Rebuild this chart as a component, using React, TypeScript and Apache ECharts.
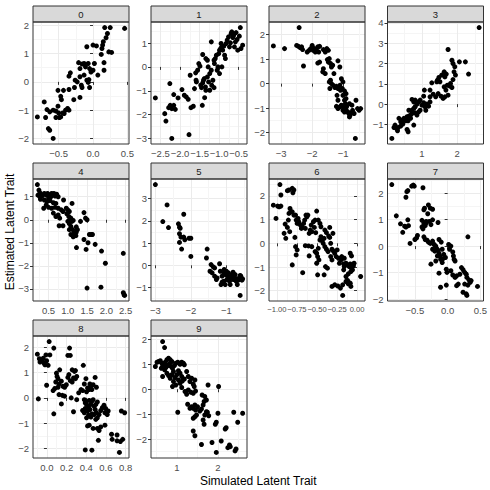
import React, { useEffect, useRef } from "react";
import * as echarts from "echarts";

const facetLabels = ["0", "1", "2", "3", "4", "5", "6", "7", "8", "9"];
const xTitle = "Simulated Latent Trait";
const yTitle = "Estimated Latent Trait";

const panel0: number[][] = [[0.46,1.89],[0.17,1.92],[0.25,1.92],[0.21,1.71],[0.19,1.56],[0.15,1.42],[0.14,1.30],[0.13,1.18],[0,1.30],[0.05,1.27],[-0.09,1.24],[0.23,1.06],[0.27,1.04],[0.12,0.97],[0.16,0.68],[-0.21,0.68],[-0.16,0.63],[-0.13,0.65],[-0.07,0.65],[0.02,0.65],[-0.11,0.53],[-0.05,0.47],[0,0.41],[-0.03,0.35],[-0.19,0.47],[0.16,0.41],[0.07,0.24],[-0.33,0.32],[-0.35,0.2],[-0.19,0.18],[-0.13,0.24],[-0.26,0.06],[-0.23,0],[-0.09,0.06],[-0.06,0.08],[-0.07,-0.02],[-0.17,-0.12],[-0.16,-0.2],[-0.05,-0.2],[-0.27,-0.2],[-0.51,-0.3],[-0.43,-0.3],[-0.35,-0.27],[-0.47,-0.51],[-0.46,-0.63],[-0.19,-0.55],[-0.28,-0.63],[-0.71,-0.71],[-0.51,-0.86],[-0.67,-0.98],[-0.63,-1.06],[-0.58,-1.0],[-0.54,-1.03],[-0.5,-1.1],[-0.44,-1.1],[-0.4,-1.0],[-0.37,-0.94],[-0.35,-1.0],[-0.42,-1.12],[-0.47,-1.24],[-0.54,-1.26],[-0.49,-1.26],[-0.69,-1.26],[-0.81,-1.24],[-0.65,-1.65],[-0.63,-1.71],[-0.58,-2.0]];

const panel1: number[][] = [[-2.63,-1.30],[-2.26,-0.70],[-2.39,-1.96],[-2.36,-2.27],[-2.29,-1.71],[-2.25,-1.61],[-2.21,-1.75],[-2.12,-1.78],[-2.16,-1.61],[-2.16,-1.16],[-2.05,-1.30],[-1.95,-0.95],[-1.89,-1.19],[-1.84,-1.26],[-1.79,-1.36],[-2.21,-3.0],[-1.77,-2.84],[-1.74,-0.35],[-1.72,-1.71],[-1.66,-1.65],[-1.63,-0.91],[-1.59,-0.56],[-1.58,-0.63],[-1.60,-0.25],[-1.55,-0.14],[-1.52,0.14],[-1.49,0.03],[-1.47,-0.77],[-1.45,-0.87],[-1.42,-0.67],[-1.40,-0.56],[-1.38,-0.49],[-1.43,-1.61],[-1.37,-1.29],[-1.34,-0.98],[-1.42,0.52],[-1.34,0.35],[-1.30,0.28],[-1.28,0],[-1.30,-0.42],[-1.27,-0.63],[-1.24,-0.28],[-1.20,-0.14],[-1.20,1.05],[-1.19,-0.77],[-1.16,-0.56],[-1.13,0.28],[-1.12,0.14],[-1.10,0.35],[-1.07,0.49],[-1.03,0],[-1.01,0.56],[-0.99,0.70],[-0.96,0.77],[-0.95,0.98],[-0.93,0.84],[-0.91,0.70],[-0.88,0.87],[-0.86,0.49],[-0.84,0.35],[-0.82,0.98],[-0.794,1.12],[-0.76,1.26],[-0.735,0.84],[-0.71,1.01],[-0.693,1.40],[-0.676,1.47],[-0.651,1.23],[-0.626,1.33],[-0.609,0.84],[-0.584,1.05],[-0.567,1.44],[-0.542,1.15],[-0.525,0.70],[-0.483,1.29],[-0.458,1.65],[-0.441,0.77],[-0.399,0.91],[-1.05,-0.14],[-0.99,-0.28],[-0.93,0],[-1.13,-0.87],[-1.24,-0.98],[-1.35,-0.84]];

const panel2: number[][] = [[-2.42,2.29],[-3.25,1.54],[-2.89,1.43],[-2.5,1.56],[-2.44,1.52],[-2.39,1.47],[-2.34,1.50],[-2.31,1.39],[-2.28,0.72],[-2.16,1.29],[-2.10,1.36],[-2.05,1.43],[-2.0,1.56],[-1.97,1.36],[-1.93,1.43],[-1.90,1.29],[-1.86,1.36],[-1.82,1.50],[-1.76,1.52],[-1.79,1.29],[-1.82,0.84],[-1.76,0.88],[-1.64,1.39],[-1.58,1.29],[-1.53,1.43],[-1.48,1.36],[-1.64,0.61],[-1.58,0.41],[-1.66,0.48],[-1.51,0.98],[-1.48,0.88],[-1.45,1.02],[-1.41,0.82],[-1.38,0.68],[-1.34,0.75],[-1.30,0.41],[-1.41,0.14],[-1.45,0.07],[-1.38,0],[-1.43,-0.20],[-1.17,0.93],[-1.11,0.68],[-1.32,-0.07],[-1.27,-0.16],[-1.22,-0.11],[-1.17,-0.20],[-1.11,-0.07],[-1.06,0.20],[-1.01,0.07],[-1.09,-0.27],[-1.03,-0.20],[-0.96,-0.30],[-0.91,-0.41],[-1.17,-0.68],[-1.20,-0.48],[-1.01,-0.48],[-0.96,-0.68],[-0.91,-0.61],[-0.93,-0.82],[-1.22,-0.93],[-1.17,-1.02],[-1.11,-0.95],[-1.06,-0.88],[-1.01,-0.95],[-1.01,-1.09],[-0.96,-1.16],[-0.91,-1.06],[-0.85,-1.16],[-0.82,-1.22],[-0.78,-1.29],[-0.75,-1.20],[-0.70,-1.09],[-0.65,-1.22],[-0.59,-0.68],[-0.54,-1.02],[-0.49,-1.09],[-0.44,-1.02],[-0.80,-1.36],[-0.61,-2.24],[-0.89,-0.93],[-0.80,-0.82],[-0.72,-0.88]];

const panel3: number[][] = [[2.62,3.77],[1.74,2.69],[2.06,2.08],[2.23,2.08],[2.32,1.48],[1.85,2.16],[1.88,2.0],[1.93,1.84],[1.91,1.59],[1.95,1.43],[1.88,1.21],[1.81,1.02],[1.79,0.89],[1.85,0.82],[1.63,1.59],[1.56,1.43],[1.48,1.31],[1.44,1.18],[1.51,1.10],[1.42,1.10],[1.65,1.34],[1.69,1.48],[1.28,1.05],[1.23,0.69],[1.07,0.69],[1.05,0.39],[1.23,0.36],[1.32,0.49],[1.39,0.36],[1.46,0.52],[1.54,0.39],[1.60,0.28],[1.65,0.36],[1.74,0.44],[1.63,0.85],[1.68,0.69],[1.72,0.93],[0.72,0.23],[0.77,0.11],[0.81,0.2],[0.86,0],[0.91,0.11],[0.95,0.2],[1.0,-0.05],[1.05,0.07],[1.09,-0.13],[1.14,0],[1.19,-0.1],[1.11,-0.3],[1.23,0.11],[0.35,-0.70],[0.40,-0.87],[0.44,-0.79],[0.49,-0.70],[0.54,-0.82],[0.58,-0.62],[0.63,-0.59],[0.68,-0.54],[0.72,-0.46],[0.68,-0.70],[0.61,-0.82],[0.81,-0.43],[0.86,-0.54],[0.91,-0.38],[0.95,-0.30],[0.77,-0.21],[0.81,-0.13],[0.72,-0.30],[0.63,-0.30],[0.24,-1.03],[0.28,-1.20],[0.33,-1.15],[0.31,-1.31],[0.40,-1.08],[0.46,-0.98],[0.58,-1.25],[0.61,-1.36],[0.77,-1.03],[0.21,-1.15],[0.15,-1.69]];

const panel4: number[][] = [[0.21,1.53],[0.25,1.29],[0.28,1.17],[0.225,1.07],[0.275,1.0],[0.333,1.03],[0.39,1.14],[0.44,1.07],[0.475,1.14],[0.525,1.07],[0.56,1.0],[0.61,1.07],[0.64,1.14],[0.67,1.03],[0.71,1.11],[0.75,1.0],[0.58,1.14],[0.5,0.93],[0.29,0.89],[0.39,0.86],[0.46,0.79],[0.54,0.83],[0.625,0.74],[0.69,0.71],[0.375,0.5],[0.44,0.64],[0.5,0.54],[0.58,0.5],[0.67,0.54],[0.75,0.5],[0.83,0.43],[0.875,0.36],[0.89,0.86],[0.625,0.29],[0.69,0.14],[0.75,0.21],[0.79,0.07],[0.775,-0.26],[0.875,-0.26],[0.96,0.5],[1.0,0.43],[1.04,0.36],[0.975,0.26],[1.025,0.14],[1.06,0],[1.08,0.07],[1.0,-0.07],[1.04,-0.17],[1.11,-0.07],[1.14,-0.03],[1.08,-0.29],[1.125,-0.43],[1.17,-0.57],[1.21,-0.69],[1.14,-0.74],[1.08,-0.64],[1.04,-0.43],[1.11,0.71],[1.22,-0.31],[1.25,-0.43],[1.22,-0.54],[1.33,-0.07],[1.42,0.31],[1.46,0.07],[1.5,0],[1.225,-1.21],[1.42,-0.86],[1.475,-1.29],[1.525,-1.0],[1.56,-0.64],[1.61,-0.64],[1.64,-0.64],[1.71,-1.07],[1.875,-1.36],[1.975,-1.89],[2.44,-1.46],[1.5,-2.97],[1.86,-2.93],[2.44,-3.17],[2.46,-3.26],[2.475,-3.29]];

const panel5: number[][] = [[-3.0,3.64],[-2.67,2.72],[-2.79,1.97],[-2.63,1.70],[-2.2,2.30],[-2.35,1.87],[-2.32,1.72],[-2.30,1.67],[-2.32,1.42],[-2.28,1.27],[-2.32,1.03],[-2.26,0.73],[-2.2,1.27],[-2.17,1.15],[-2.05,1.22],[-2.0,1.22],[-2.0,0.40],[-1.54,0.73],[-1.56,0.33],[-1.43,0.03],[-1.37,-0.07],[-1.33,-0.12],[-1.40,-0.34],[-1.46,-0.27],[-1.33,-0.49],[-1.28,-0.64],[-1.26,-0.57],[-1.19,0.07],[-1.17,-0.27],[-1.15,-0.87],[-1.12,-0.49],[-1.07,-0.34],[-1.06,-0.19],[-1.03,-0.42],[-1.0,-0.27],[-0.98,-0.64],[-0.96,-0.49],[-0.94,-0.34],[-0.91,-0.72],[-0.89,-0.87],[-0.87,-0.57],[-0.84,-0.42],[-0.81,-0.31],[-0.80,-0.64],[-0.78,-0.49],[-0.75,-0.42],[-0.72,-0.72],[-0.70,-0.61],[-0.69,-0.87],[-0.66,-0.67],[-0.63,-0.57],[-0.61,-0.46],[-0.59,-0.49],[-0.56,-0.67],[-0.54,-0.61],[-1.07,-0.72],[-1.12,-0.76],[-1.03,-0.87],[-0.61,-1.36]];

const panel6: number[][] = [[-0.963,2.48],[-0.951,2.04],[-1.045,1.61],[-0.992,1.57],[-0.972,1.54],[-0.951,1.57],[-1.012,1.05],[-0.87,2.22],[-0.809,2.32],[-0.801,2.13],[-0.789,2.25],[-0.85,2.25],[-0.837,1.47],[-0.829,1.33],[-0.85,1.26],[-0.809,1.33],[-0.789,1.19],[-0.898,0.81],[-0.870,0.67],[-0.911,0.42],[-0.89,0.21],[-0.841,0.49],[-0.858,0.98],[-0.768,1.19],[-0.76,0.98],[-0.748,0.84],[-0.736,1.05],[-0.728,0.91],[-0.707,0.77],[-0.695,0.63],[-0.687,0.70],[-0.667,0.84],[-0.654,0.98],[-0.646,0.63],[-0.626,1.12],[-0.638,1.19],[-0.614,1.19],[-0.598,0.42],[-0.585,0.56],[-0.565,0.49],[-0.573,0.77],[-0.545,0.91],[-0.524,0.98],[-0.533,0.67],[-0.516,0.45],[-0.504,1.36],[-0.484,0.98],[-0.463,0.84],[-0.451,0.70],[-0.809,-0.91],[-0.768,-0.14],[-0.748,-0.28],[-0.76,-0.49],[-0.776,0.25],[-0.679,-1.24],[-0.646,-0.10],[-0.606,-0.11],[-0.565,-0.14],[-0.598,-0.53],[-0.524,-0.35],[-0.504,-0.42],[-0.492,-0.56],[-0.476,-0.70],[-0.504,-0.84],[-0.484,-0.21],[-0.463,0.14],[-0.451,0.28],[-0.435,0.11],[-0.423,0],[-0.411,0.21],[-0.402,-0.14],[-0.382,-0.25],[-0.362,-0.35],[-0.382,0.45],[-0.402,0.56],[-0.354,0.31],[-0.341,0.25],[-0.329,0],[-0.313,-0.25],[-0.301,-0.31],[-0.329,-0.56],[-0.313,-0.70],[-0.280,-0.42],[-0.260,-0.56],[-0.248,-0.28],[-0.232,-0.63],[-0.220,-0.84],[-0.199,-0.70],[-0.191,-0.56],[-0.167,-0.87],[-0.159,-0.98],[-0.370,-1.05],[-0.394,-0.98],[-0.411,-1.33],[-0.492,-1.33],[-0.313,-1.82],[-0.28,-1.75],[-0.24,-1.80],[-0.207,-1.89],[-0.179,-1.75],[-0.159,-0.63],[-0.138,-0.84],[-0.118,-0.91],[-0.098,-0.98],[-0.085,-0.87],[-0.069,-1.05],[-0.057,-1.12],[-0.045,-0.95],[-0.037,-0.84],[-0.077,-1.19],[-0.110,-1.29],[-0.138,-1.40],[-0.167,-1.12],[-0.085,-0.42],[-0.069,-0.53],[-0.138,-1.61],[-0.118,-1.57],[-0.085,-1.68],[-0.077,-1.82],[-0.11,-1.71],[-0.179,-2.2],[0.045,-1.40],[-0.301,0.42],[-0.341,0.67]];

const panel7: number[][] = [[-0.853,2.32],[-0.784,1.14],[-0.72,0.84],[-0.657,0.75],[-0.637,0.72],[-0.608,0.99],[-0.686,0.52],[-0.598,0.77],[-0.574,0.10],[-0.637,1.84],[-0.623,2.05],[-0.549,2.26],[-0.525,2.30],[-0.51,2.26],[-0.608,2.09],[-0.377,2.20],[-0.5,0.25],[-0.461,0.40],[-0.475,0.31],[-0.392,0.97],[-0.363,0.84],[-0.343,0.77],[-0.328,0.87],[-0.377,0.65],[-0.392,0.72],[-0.363,1.37],[-0.353,1.43],[-0.294,1.55],[-0.265,1.43],[-0.230,1.39],[-0.304,1.22],[-0.328,0.93],[-0.279,0.93],[-0.230,0.99],[-0.255,0.81],[-0.147,0.89],[-0.363,0.35],[-0.343,0.25],[-0.314,0.22],[-0.294,0.15],[-0.265,0.10],[-0.230,0.19],[-0.206,0.06],[-0.181,0],[-0.167,-0.10],[-0.147,-0.15],[-0.230,-0.12],[-0.196,-0.19],[-0.132,-0.27],[-0.118,-0.37],[-0.157,-0.37],[-0.181,-0.56],[-0.255,-0.68],[-0.132,0.25],[-0.098,0.15],[-0.083,-0.12],[-0.059,-0.31],[-0.034,-0.43],[-0.108,-0.50],[-0.083,-0.62],[-0.069,-0.47],[0.015,0.06],[0.049,0],[0.029,-0.12],[0.078,-0.22],[0.088,-0.37],[0.098,-0.50],[0.113,-0.56],[-0.132,-1.02],[-0.02,-0.87],[-0.01,-0.99],[0.049,-0.93],[0.078,-1.09],[0.113,-1.18],[0.137,-1.12],[0.186,-1.06],[-0.108,-1.55],[-0.02,-1.47],[0.137,-1.49],[0.162,-1.43],[0.211,-0.81],[0.235,-0.89],[0.26,-0.99],[0.284,-1.06],[0.294,-1.18],[0.324,-1.27],[0.343,-1.37],[0.358,-1.30],[0.309,-1.47],[0.26,-1.43],[0.235,-1.74],[0.284,-1.80],[0.294,-1.86],[0.456,-1.52],[0.309,0.35]];

const panel8: number[][] = [[0.023,2.23],[-0.097,1.73],[-0.077,1.55],[-0.037,1.57],[-0.053,1.47],[-0.07,1.42],[-0.03,1.38],[-0.003,1.47],[-0.02,1.31],[0.013,1.29],[-0.01,1.70],[0.03,1.70],[0.07,1.97],[-0.087,-0.04],[-0.003,0.50],[0.07,-0.63],[0.063,0.29],[0.08,0.37],[0.097,0.98],[0.103,0.85],[0.113,0.76],[0.09,0.63],[0.123,0.55],[0.113,0.42],[0.13,1.11],[0.147,0.66],[0.163,0.46],[0.123,0.13],[0.157,0.10],[0.147,-0.24],[0.18,0.07],[0.18,0.42],[0.197,0.52],[0.213,0.81],[0.223,0.92],[0.237,0.68],[0.257,0.63],[0.27,0.79],[0.29,0.76],[0.303,0.85],[0.28,1.05],[0.257,1.11],[0.29,1.08],[0.23,1.97],[0.213,1.68],[0.237,1.68],[0.247,0],[0.27,-0.55],[0.303,-0.07],[0.323,0.20],[0.347,0.33],[0.363,0.29],[0.37,1.29],[0.38,0.55],[0.397,0.76],[0.413,0.39],[0.43,0.33],[0.403,0.24],[0.437,0.55],[0.447,0.46],[0.457,0.33],[0.47,0.52],[0.49,0.81],[0.503,0.42],[0.38,-0.07],[0.397,-0.16],[0.403,-0.26],[0.423,-0.37],[0.39,-0.42],[0.363,-0.50],[0.38,-0.59],[0.413,-0.52],[0.437,-0.46],[0.447,-0.26],[0.457,-0.13],[0.47,-0.07],[0.48,-0.33],[0.49,-0.46],[0.497,-0.26],[0.513,-0.16],[0.503,-0.59],[0.48,-0.66],[0.457,-0.63],[0.447,-0.76],[0.423,-0.68],[0.403,-0.79],[0.497,-0.85],[0.513,-0.79],[0.53,-0.66],[0.547,-0.50],[0.563,-0.39],[0.58,-0.29],[0.597,-0.42],[0.59,-0.59],[0.613,-0.66],[0.623,-0.52],[0.43,-0.10],[0.39,-0.20],[0.413,-1.11],[0.43,-1.08],[0.47,-1.21],[0.513,-1.21],[0.547,-1.15],[0.59,-1.08],[0.53,-1.29],[0.523,-1.68],[0.657,-1.44],[0.713,-1.47],[0.663,-1.64],[0.713,-1.70],[0.747,-1.73],[0.77,-1.64],[0.79,-0.59],[0.757,-0.52],[0.737,-2.16],[0.39,-2.06],[0.457,-2.07]];

const panel9: number[][] = [[0.656,1.91],[0.704,1.67],[0.48,0.91],[0.52,1.08],[0.56,1.11],[0.6,1.14],[0.64,1.04],[0.68,0.98],[0.72,1.08],[0.76,1.18],[0.80,1.24],[0.84,1.18],[0.88,1.11],[0.624,0.84],[0.656,0.91],[0.704,0.78],[0.736,0.87],[0.784,0.95],[0.816,1.0],[0.864,0.91],[0.896,0.84],[0.944,0.95],[0.976,1.04],[1.024,1.08],[1.08,1.0],[1.12,1.08],[1.16,1.04],[1.184,0.98],[0.656,0.51],[0.76,0.64],[0.8,0.55],[0.84,0.44],[0.88,0.58],[0.92,0.71],[0.96,0.47],[1.0,0.58],[1.04,0.74],[1.08,0.64],[1.12,0.51],[0.92,0.31],[0.976,0.17],[1.04,0.37],[1.08,0.24],[1.136,0.33],[1.184,0.41],[1.24,0.71],[1.28,0.51],[1.32,0.31],[1.36,0.44],[1.4,0.20],[1.44,0.37],[1.424,0.11],[0.896,0.11],[1.12,0.07],[1.2,-0.09],[1.24,-0.20],[1.28,-0.03],[1.344,-0.12],[1.4,-0.16],[1.456,-0.07],[1.76,0.17],[2.016,0.11],[1.024,-0.92],[1.264,-0.60],[1.32,-0.76],[1.36,-0.70],[1.4,-0.76],[1.44,-0.63],[1.456,-0.83],[1.504,-0.70],[1.56,-0.87],[1.6,-0.79],[1.64,-0.63],[1.664,-0.49],[1.72,-0.43],[1.68,-0.29],[1.616,-0.23],[1.72,-0.90],[1.776,-1.06],[1.744,-0.92],[1.48,-1.03],[1.4,-1.16],[1.44,-1.10],[1.64,-1.23],[1.68,-1.03],[1.664,-1.40],[1.936,-1.40],[1.96,-1.32],[2.0,-0.96],[1.4,-1.67],[1.44,-1.86],[1.6,-2.21],[1.856,-2.13],[1.96,-2.53],[2.08,-2.07],[2.176,-1.59],[2.2,-1.54],[2.24,-2.34],[2.28,-2.23],[2.30,-2.30],[2.384,-0.92],[2.48,-1.32],[2.6,-0.96],[2.416,-2.47],[2.44,-2.39]];

const panels = [panel0, panel1, panel2, panel3, panel4, panel5, panel6, panel7, panel8, panel9];
const xSteps = [0.5, 0.5, 1, 1, 0.5, 1, 0.25, 0.5, 0.2, 1];
const xDecimals = [1, 1, 0, 0, 1, 0, 2, 1, 1, 0];
const ySteps = [1, 1, 1, 1, 1, 1, 1, 1, 1, 1];

const FONT = "'Liberation Sans', Arial, Helvetica, sans-serif";
const colLefts = [33, 151, 269, 387.5];
const panelW = 96;
const rowTops = [6, 163, 320];
const stripH = 16;
const plotH = 122;

function extent(pts: number[][], k: number): [number, number] {
  let lo = Infinity;
  let hi = -Infinity;
  for (const p of pts) {
    if (p[k] < lo) lo = p[k];
    if (p[k] > hi) hi = p[k];
  }
  const pad = (hi - lo) * 0.05;
  return [lo - pad, hi + pad];
}

function niceTicks(lo: number, hi: number, step: number): number[] {
  const out: number[] = [];
  const start = Math.ceil(lo / step - 1e-9);
  const end = Math.floor(hi / step + 1e-9);
  for (let i = start; i <= end; i++) out.push(Number((i * step).toFixed(6)));
  return out;
}

function fmt(v: number, d: number): string {
  const s = (Math.abs(v) < 1e-9 ? 0 : v).toFixed(d);
  return s.charAt(0) === "-" ? "\u2212" + s.slice(1) : s;
}

export default function App() {
  const ref = useRef<HTMLDivElement>(null);
  useEffect(() => {
    if (!ref.current) return;
    const chart = echarts.init(ref.current, undefined, { renderer: "svg" });
    const grids: any[] = [];
    const xAxes: any[] = [];
    const yAxes: any[] = [];
    const series: any[] = [];
    const graphics: any[] = [];

    panels.forEach((pts, i) => {
      const col = i % 4;
      const row = Math.floor(i / 4);
      const left = colLefts[col];
      const stripTop = rowTops[row];
      const top = stripTop + stripH;
      grids.push({ left, top, width: panelW, height: plotH, show: true, backgroundColor: "#FFFFFF", borderWidth: 0 });
      const xr = extent(pts, 0);
      const yr = extent(pts, 1);
      const xt = niceTicks(xr[0], xr[1], xSteps[i]);
      const yt = niceTicks(yr[0], yr[1], ySteps[i]);
      const common = {
        type: "value",
        gridIndex: i,
        axisLine: { show: false },
        splitLine: { show: true, lineStyle: { color: "#EBEBEB", width: 1 } },
        minorTick: { show: false, splitNumber: 2 },
        minorSplitLine: { show: true, lineStyle: { color: "#F5F5F5", width: 1 } },
      };
      const d = xDecimals[i];
      const xFont = d === 2 ? 7.6 : 9.5;
      xAxes.push({
        ...common,
        min: xr[0],
        max: xr[1],
        minInterval: xSteps[i],
        maxInterval: xSteps[i],
        axisTick: { show: true, length: 3, customValues: xt, lineStyle: { color: "#333333", width: 1 } },
        axisLabel: {
          customValues: xt,
          interval: 0,
          hideOverlap: false,
          showMinLabel: true,
          showMaxLabel: true,
          formatter: (v: number) => fmt(v, d),
          color: "#4D4D4D",
          fontSize: xFont,
          fontFamily: FONT,
          margin: 4,
        },
      });
      yAxes.push({
        ...common,
        min: yr[0],
        max: yr[1],
        minInterval: ySteps[i],
        maxInterval: ySteps[i],
        axisTick: { show: true, length: 3, customValues: yt, lineStyle: { color: "#333333", width: 1 } },
        axisLabel: {
          customValues: yt,
          interval: 0,
          hideOverlap: false,
          showMinLabel: true,
          showMaxLabel: true,
          formatter: (v: number) => fmt(v, 0),
          color: "#4D4D4D",
          fontSize: 9.5,
          fontFamily: FONT,
          margin: 4,
        },
      });
      series.push({
        type: "scatter",
        xAxisIndex: i,
        yAxisIndex: i,
        data: pts,
        symbolSize: 5,
        itemStyle: { color: "#000000", opacity: 1 },
        silent: true,
      });
      graphics.push({
        type: "rect",
        shape: { x: left, y: stripTop, width: panelW, height: stripH },
        style: { fill: "#D9D9D9", stroke: "#333333", lineWidth: 1 },
        z: 100,
      });
      graphics.push({
        type: "text",
        x: left + panelW / 2,
        y: stripTop + stripH / 2,
        style: { text: facetLabels[i], fill: "#1A1A1A", fontSize: 9.5, fontFamily: FONT, align: "center", verticalAlign: "middle" },
        z: 101,
      });
      graphics.push({
        type: "rect",
        shape: { x: left, y: top, width: panelW, height: plotH },
        style: { fill: "none", stroke: "#333333", lineWidth: 1 },
        z: 100,
      });
    });

    graphics.push({
      type: "text",
      x: (colLefts[0] + colLefts[3] + panelW) / 2,
      y: 481,
      style: { text: xTitle, fill: "#000000", fontSize: 12, fontFamily: FONT, align: "center", verticalAlign: "middle" },
    });
    graphics.push({
      type: "text",
      x: 10,
      y: (rowTops[0] + rowTops[2] + stripH + plotH) / 2,
      rotation: Math.PI / 2,
      style: { text: yTitle, fill: "#000000", fontSize: 12, fontFamily: FONT, align: "center", verticalAlign: "middle" },
    });

    chart.setOption({
      animation: false,
      backgroundColor: "#FFFFFF",
      grid: grids,
      xAxis: xAxes,
      yAxis: yAxes,
      series,
      graphic: graphics,
    });
    return () => chart.dispose();
  }, []);
  return <div ref={ref} style={{ position: "fixed", left: 0, top: 0, width: 490, height: 490 }} />;
}
